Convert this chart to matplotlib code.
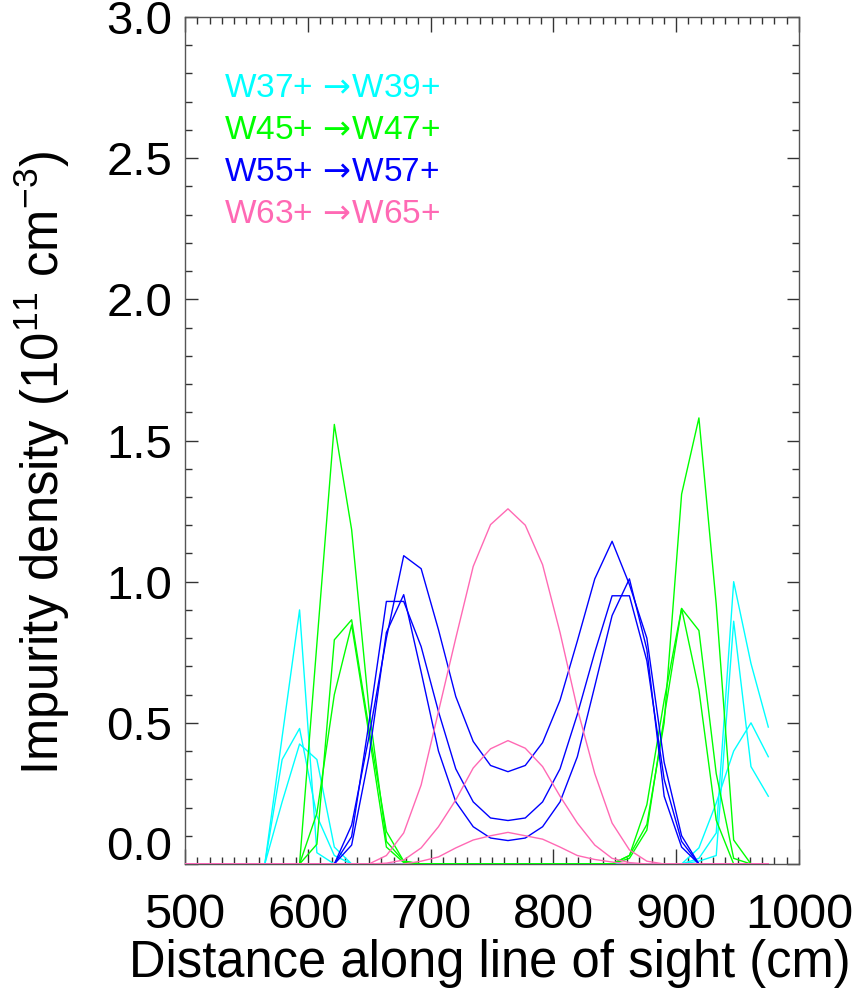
import matplotlib
matplotlib.use('Agg')
import matplotlib.pyplot as plt
from matplotlib.ticker import MultipleLocator, FuncFormatter

plt.rcParams['font.family'] = ['Liberation Sans', 'DejaVu Sans']
plt.rcParams['mathtext.fontset'] = 'custom'
plt.rcParams['mathtext.rm'] = 'Liberation Sans'
plt.rcParams['mathtext.it'] = 'Liberation Sans:italic'

# positions along the line of sight (cm)
distance = [494.3, 508.5, 522.6, 536.7, 550.9, 565.0, 579.1, 593.3, 607.4, 621.6,
            635.7, 649.8, 664.0, 678.1, 692.3, 706.4, 720.5, 734.7, 748.8, 763.0,
            777.1, 791.2, 805.4, 819.5, 833.7, 847.8, 861.9, 876.1, 890.2, 904.4,
            918.5, 932.6, 946.8, 960.9, 975.0]

# W37+ -> W39+
w37_a = [0, 0, 0, 0, 0, 0, 0.45, 0.90, 0.04, 0, 0, 0, 0, 0, 0, 0, 0, 0, 0, 0,
         0, 0, 0, 0, 0, 0, 0, 0, 0, 0, 0.02, 0.11, 1.00, 0.71, 0.485]
w37_b = [0, 0, 0, 0, 0, 0, 0.37, 0.48, 0.17, 0.03, 0, 0, 0, 0, 0, 0, 0, 0, 0, 0,
         0, 0, 0, 0, 0, 0, 0, 0, 0, 0, 0.01, 0.03, 0.86, 0.345, 0.24]
w37_c = [0, 0, 0, 0, 0, 0, 0.22, 0.425, 0.37, 0.06, 0, 0, 0, 0, 0, 0, 0, 0, 0, 0,
         0, 0, 0, 0, 0, 0, 0, 0, 0, 0, 0.057, 0.216, 0.40, 0.50, 0.38]

# W45+ -> W47+
w45_a = [0, 0, 0, 0, 0, 0, 0, 0, 0.78, 1.557, 1.184, 0.55, 0.08, 0.01, 0, 0, 0, 0, 0, 0,
         0, 0, 0, 0, 0, 0, 0.03, 0.14, 0.50, 1.31, 1.58, 0.92, 0.085, 0, 0]
w45_b = [0, 0, 0, 0, 0, 0, 0, 0, 0.07, 0.794, 0.865, 0.48, 0.115, 0.01, 0, 0, 0, 0, 0, 0,
         0, 0, 0, 0, 0, 0, 0.03, 0.21, 0.58, 0.905, 0.827, 0.32, 0.02, 0, 0]
w45_c = [0, 0, 0, 0, 0, 0, 0, 0, 0.18, 0.60, 0.847, 0.46, 0.06, 0.005, 0, 0, 0, 0, 0, 0,
         0, 0, 0, 0, 0, 0, 0.02, 0.12, 0.52, 0.905, 0.617, 0.155, 0, 0, 0]

# W55+ -> W57+
w55_a = [0, 0, 0, 0, 0, 0, 0, 0, 0, 0, 0.138, 0.45, 0.80, 1.092, 1.046, 0.83, 0.593, 0.434,
         0.349, 0.327, 0.349, 0.43, 0.58, 0.79, 1.01, 1.143, 0.99, 0.80, 0.36, 0.10,
         0, 0, 0, 0, 0]
w55_b = [0, 0, 0, 0, 0, 0, 0, 0, 0, 0, 0.097, 0.50, 0.93, 0.93, 0.77, 0.54, 0.337, 0.22,
         0.163, 0.154, 0.163, 0.22, 0.337, 0.53, 0.75, 0.95, 0.95, 0.72, 0.30, 0.08,
         0, 0, 0, 0, 0]
w55_c = [0, 0, 0, 0, 0, 0, 0, 0, 0, 0, 0.067, 0.38, 0.82, 0.954, 0.68, 0.40, 0.22, 0.132,
         0.092, 0.083, 0.092, 0.132, 0.22, 0.38, 0.63, 0.88, 1.01, 0.76, 0.24, 0.06,
         0, 0, 0, 0, 0]

# W63+ -> W65+
w63_a = [0, 0, 0, 0, 0, 0, 0, 0, 0, 0, 0, 0, 0.03, 0.11, 0.28, 0.54, 0.80, 1.054,
         1.202, 1.258, 1.20, 1.06, 0.82, 0.55, 0.32, 0.145, 0.05, 0.01, 0, 0,
         0, 0, 0, 0, 0]
w63_b = [0, 0, 0, 0, 0, 0, 0, 0, 0, 0, 0, 0, 0.003, 0.014, 0.057, 0.132, 0.227, 0.34,
         0.408, 0.437, 0.41, 0.345, 0.24, 0.145, 0.067, 0.02, 0.005, 0, 0, 0,
         0, 0, 0, 0, 0]
w63_c = [0, 0, 0, 0, 0, 0, 0, 0, 0, 0, 0, 0, 0, 0, 0.01, 0.025, 0.057, 0.085,
         0.10, 0.112, 0.10, 0.088, 0.06, 0.03, 0.016, 0.007, 0, 0, 0, 0,
         0, 0, 0, 0, 0]

grupos = [
    ('W37+', 'W39+', '#00ffff', [w37_a, w37_b, w37_c]),
    ('W45+', 'W47+', '#00ff00', [w45_a, w45_b, w45_c]),
    ('W55+', 'W57+', '#0000ff', [w55_a, w55_b, w55_c]),
    ('W63+', 'W65+', '#ff69b4', [w63_a, w63_b, w63_c]),
]

fig = plt.figure(figsize=(8.6, 9.94), dpi=100)
ax = fig.add_axes([185 / 860, 1 - 864 / 994, 614 / 860, 847 / 994])

for i, (ion_de, ion_para, cor, curvas) in enumerate(grupos):
    for curva in curvas:
        ax.plot(distance, curva, color=cor, lw=1.0, zorder=3)
    ax.text(0.0635, 0.916 - i * 0.0496, f'{ion_de} $\\!\\rightarrow\\!${ion_para}', color=cor,
            fontsize=24, va='center', transform=ax.transAxes, math_fontfamily='dejavusans')

ax.set_xlim(500, 1000)
ax.set_ylim(0, 3)
ax.xaxis.set_major_locator(MultipleLocator(100))
ax.xaxis.set_minor_locator(MultipleLocator(10))
ax.yaxis.set_major_locator(MultipleLocator(0.5))
ax.yaxis.set_minor_locator(MultipleLocator(0.1))
ax.yaxis.set_major_formatter(FuncFormatter(lambda v, p: '' if abs(v) < 1e-9 else f'{v:.1f}'))

ax.tick_params(which='both', direction='in', top=True, right=True, color='#333333', width=1.0)
ax.tick_params(axis='x', which='major', length=11, labelsize=35, pad=21)
ax.tick_params(axis='x', which='minor', length=5)
ax.tick_params(axis='y', which='major', length=9, labelsize=34, pad=9)
ax.tick_params(axis='y', which='minor', length=5)
for sp in ax.spines.values():
    sp.set_color('#555555')
    sp.set_linewidth(1.0)

# o rótulo 0.0 fica um pouco acima do eixo, como no original
ax.annotate('0.0', xy=(0, 0), xycoords='axes fraction', xytext=(-13, 16),
            textcoords='offset pixels', ha='right', va='center', fontsize=34)

ax.set_xlabel('Distance along line of sight (cm)', fontsize=36.5)
ax.xaxis.set_label_coords(0.496, -0.089)
ax.set_ylabel('Impurity density (10$^{11}$ cm$^{-3}$)', fontsize=36.5)
ax.yaxis.set_label_coords(-0.184, 0.474)

fig.savefig('out.png', dpi=100)
